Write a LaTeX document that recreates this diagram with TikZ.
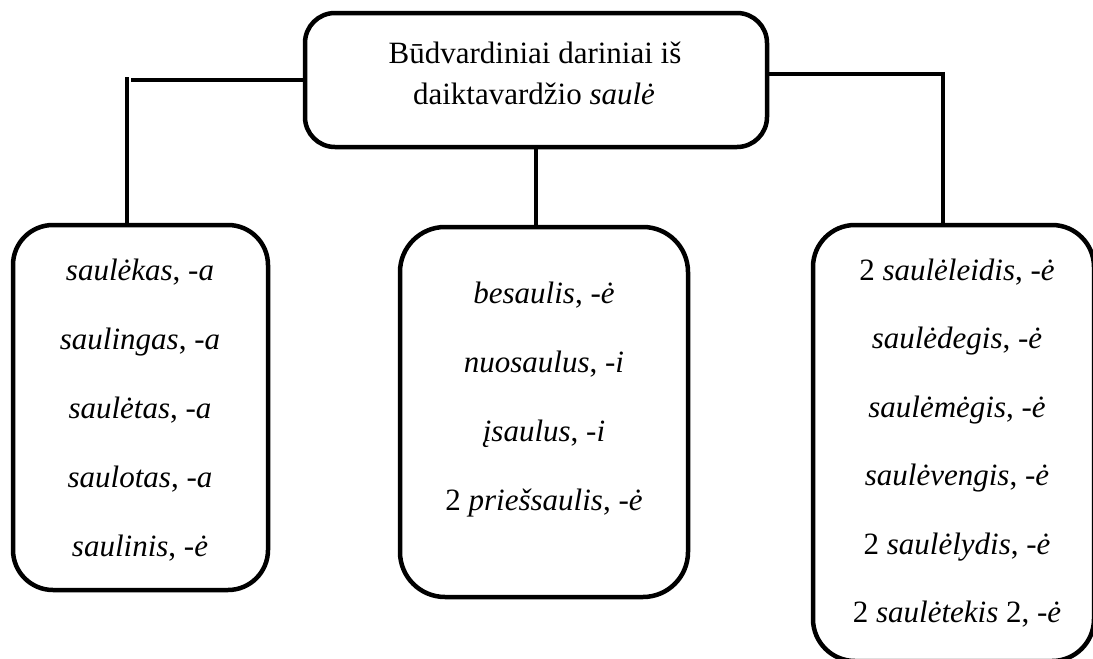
\documentclass[tikz,border=0pt]{standalone}
\usepackage{fontspec}
\setmainfont{Liberation Serif}
\begin{document}
\begin{tikzpicture}[x=1pt,y=-1pt,
  box/.style={draw, line width=4.5pt, rounded corners=#1, inner sep=0pt},
  conn/.style={draw, line width=4.5pt},
  txt/.style={anchor=base, inner sep=0pt, font=\fontsize{31}{40}\selectfont}
]
\useasboundingbox (0,0) rectangle (1093,659);
\clip (0,0) rectangle (1093,659);
% boxes
\node[box=30pt, minimum width=462pt, minimum height=134pt] (T) at (536,80) {};
\node[box=40pt, minimum width=255pt, minimum height=365pt] (L) at (140.5,407.5) {};
\node[box=45pt, minimum width=288pt, minimum height=370pt] (M) at (544,412) {};
\node[box=42pt, minimum width=281pt, minimum height=436pt] (R) at (953.5,443) {};
% title
\node[txt] (t1) at (535,63) {Būdvardiniai dariniai iš};
\node[txt] (t2) at (534,104) {daiktavardžio \textit{saulė}};
% left texts
\node[txt] (l1) at (140,280) {\textit{saulėkas}, \textit{-a}};
\node[txt] (l2) at (140,349) {\textit{saulingas}, \textit{-a}};
\node[txt] (l3) at (140,418) {\textit{saulėtas}, \textit{-a}};
\node[txt] (l4) at (140,487) {\textit{saulotas}, \textit{-a}};
\node[txt] (l5) at (140,556) {\textit{saulinis}, \textit{-ė}};
% middle texts
\node[txt] (m1) at (544,303) {\textit{besaulis}, \textit{-ė}};
\node[txt] (m2) at (544,372) {\textit{nuosaulus}, \textit{-i}};
\node[txt] (m3) at (544,441) {\textit{įsaulus}, \textit{-i}};
\node[txt] (m4) at (544,510) {2 \textit{priešsaulis}, \textit{-ė}};
% right texts
\node[txt] (r1) at (957,280) {2 \textit{saulėleidis}, \textit{-ė}};
\node[txt] (r2) at (957,348.5) {\textit{saulėdegis}, \textit{-ė}};
\node[txt] (r3) at (957,417) {\textit{saulėmėgis}, \textit{-ė}};
\node[txt] (r4) at (957,485.5) {\textit{saulėvengis}, \textit{-ė}};
\node[txt] (r5) at (957,554) {2 \textit{saulėlydis}, \textit{-ė}};
\node[txt] (r6) at (957,622.5) {2 \textit{saulėtekis} 2, \textit{-ė}};
% connectors
\coordinate (lh) at (131,80);
\coordinate (lv) at (127,77);
\draw[conn] (T.west) -- (lh);
\draw[conn] (lv) -- (lv |- L.north);
\coordinate (rh) at (943,74);
\draw[conn] (T.east |- rh) -- (rh);
\draw[conn] ([yshift=2.25pt]rh) -- (rh |- R.north);
\draw[conn] (T.south) -- (T.south |- M.north);
\end{tikzpicture}
\end{document}
